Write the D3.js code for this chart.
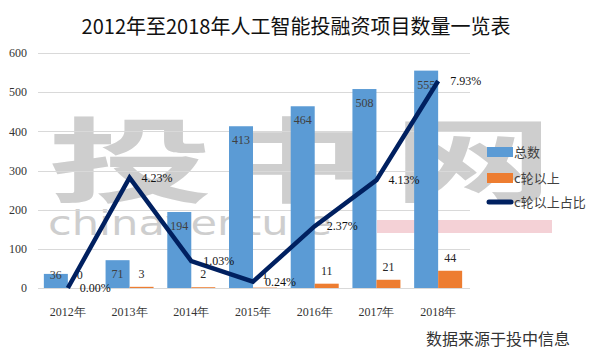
<!DOCTYPE html>
<html>
<head>
<meta charset="utf-8">
<title>人工智能投融资项目数量</title>
<style>
  body { margin: 0; background: #fff; }
  svg { display: block; }
  .num { font-family: 'Liberation Serif', 'Times New Roman', serif; }
  .cjk { font-family: 'Noto Sans CJK SC', 'Noto Sans', sans-serif; }
</style>
<script src="https://d3js.org/d3.v7.min.js"></script>
</head>
<body>
<div id="chart"></div>
<script>
// ******* Data *******
const years  = ['2012年', '2013年', '2014年', '2015年', '2016年', '2017年', '2018年'];
const total  = [36, 71, 194, 413, 464, 508, 555];
const cRound = [0, 3, 2, 1, 11, 21, 44];
const ratio  = [0.0000, 0.0423, 0.0103, 0.0024, 0.0237, 0.0413, 0.0793];
const yTicks = [0, 100, 200, 300, 400, 500, 600];

const width = 594, height = 354;
const blue = '#5b9bd5', orange = '#ed7d31', navy = '#002060';

const svg = d3.select('#chart').append('svg')
    .attr('width', width)
    .attr('height', height);

// ******* Scales *******
const x = d3.scaleBand().domain(years).range([37, 469]);
const sub = d3.scaleBand().domain(['total', 'c'])
    .range([x.bandwidth() / 2 - 24, x.bandwidth() / 2 + 24]);
const y = d3.scaleLinear().domain([0, 600]).range([288, 53]);
const y2 = d3.scaleLinear().domain([0, 0.09]).range([288, 53]);

// ******* Watermark (behind everything) *******
const wm = svg.append('g').attr('fill', '#c6c6c6').attr('opacity', 0.85);
[['投', 48, 165], ['中', 217, 150], ['网', 393, 160]].forEach(function(c) {
  wm.append('text')
    .attr('class', 'cjk')
    .attr('x', c[1]).attr('y', 195)
    .attr('font-size', 92)
    .attr('font-weight', 'bold')
    .attr('textLength', c[2])
    .attr('lengthAdjust', 'spacingAndGlyphs')
    .text(c[0]);
});
wm.append('text')
  .attr('x', 48).attr('y', 235)
  .attr('font-family', 'DejaVu Sans, sans-serif')
  .attr('font-size', 33)
  .attr('textLength', 284)
  .attr('lengthAdjust', 'spacingAndGlyphs')
  .text('chinaventure');
svg.append('rect')
  .attr('x', 377).attr('y', 220).attr('width', 175).attr('height', 13)
  .attr('fill', '#f2c9cf').attr('opacity', 0.85);

// ******* Title *******
svg.append('text')
  .attr('class', 'cjk')
  .attr('x', 296).attr('y', 34)
  .attr('text-anchor', 'middle')
  .attr('font-size', 20)
  .attr('fill', '#111')
  .text('2012年至2018年人工智能投融资项目数量一览表');

// ******* Grid + y labels *******
svg.selectAll('.grid').data(yTicks).enter().append('line')
  .attr('x1', 38).attr('x2', 470)
  .attr('y1', d => Math.round(y(d)) + 0.5)
  .attr('y2', d => Math.round(y(d)) + 0.5)
  .attr('stroke', '#d9d9d9');

svg.selectAll('.ylab').data(yTicks).enter().append('text')
  .attr('class', 'num')
  .attr('x', 27).attr('y', d => y(d))
  .attr('dy', '0.35em')
  .attr('text-anchor', 'end')
  .attr('font-size', 12)
  .attr('fill', '#333')
  .text(d => d);

// ******* Bars *******
const groups = svg.selectAll('.yr').data(years).enter().append('g')
  .attr('transform', d => 'translate(' + x(d) + ',0)');

groups.append('rect')
  .attr('x', sub('total')).attr('width', sub.bandwidth())
  .attr('y', (d, i) => y(total[i]))
  .attr('height', (d, i) => y(0) - y(total[i]))
  .attr('fill', blue);

groups.append('rect')
  .attr('x', sub('c')).attr('width', sub.bandwidth())
  .attr('y', (d, i) => y(cRound[i]))
  .attr('height', (d, i) => y(0) - y(cRound[i]))
  .attr('fill', orange);

// inside-end labels for totals
groups.append('text')
  .attr('class', 'num')
  .attr('x', sub('total') + sub.bandwidth() / 2)
  .attr('y', (d, i) => Math.min(y(total[i]) + 14, y(0) - 13))
  .attr('dy', '0.35em')
  .attr('text-anchor', 'middle')
  .attr('font-size', 12)
  .attr('fill', '#404040')
  .text((d, i) => total[i]);

// outside-end labels for c-round
groups.append('text')
  .attr('class', 'num')
  .attr('x', sub('c') + sub.bandwidth() / 2)
  .attr('y', (d, i) => y(cRound[i]) - 13)
  .attr('dy', '0.35em')
  .attr('text-anchor', 'middle')
  .attr('font-size', 12)
  .attr('fill', '#262626')
  .text((d, i) => cRound[i]);

// ******* Ratio line *******
const cx = d => x(d) + x.bandwidth() / 2;
const line = d3.line()
  .x(d => cx(d))
  .y((d, i) => y2(ratio[i]));

svg.append('path')
  .datum(years)
  .attr('d', line)
  .attr('fill', 'none')
  .attr('stroke', navy)
  .attr('stroke-width', 4.5)
  .attr('stroke-linejoin', 'miter');

svg.selectAll('.rlab').data(years).enter().append('text')
  .attr('class', 'num')
  .attr('x', d => cx(d) + 12)
  .attr('y', (d, i) => y2(ratio[i]))
  .attr('dy', '0.35em')
  .attr('font-size', 12)
  .attr('fill', '#111')
  .text((d, i) => d3.format('.2%')(ratio[i]));

// ******* X labels *******
svg.selectAll('.xlab').data(years).enter().append('text')
  .attr('class', 'num')
  .attr('x', d => cx(d))
  .attr('y', 312)
  .attr('dy', '0.35em')
  .attr('text-anchor', 'middle')
  .attr('font-size', 12)
  .attr('fill', '#333')
  .text(d => d);

// ******* Legend *******
const legend = [
  {name: '总数', type: 'rect', color: blue, y: 152},
  {name: 'c轮以上', type: 'rect', color: orange, y: 178},
  {name: 'c轮以上占比', type: 'line', color: navy, y: 202}
];
legend.forEach(function(l) {
  if (l.type === 'rect') {
    svg.append('rect')
      .attr('x', 487).attr('y', l.y - 5).attr('width', 26).attr('height', 10)
      .attr('fill', l.color);
  } else {
    svg.append('line')
      .attr('x1', 489).attr('x2', 511).attr('y1', l.y).attr('y2', l.y)
      .attr('stroke', l.color).attr('stroke-width', 5)
      .attr('stroke-linecap', 'round');
  }
  svg.append('text')
    .attr('class', 'cjk')
    .attr('x', 514).attr('y', l.y)
    .attr('dy', '0.35em')
    .attr('font-size', 13)
    .attr('fill', '#404040')
    .text(l.name);
});

// ******* Source *******
svg.append('text')
  .attr('class', 'cjk')
  .attr('x', 426).attr('y', 339)
  .attr('dy', '0.35em')
  .attr('font-size', 16)
  .attr('fill', '#333')
  .text('数据来源于投中信息');
</script>
</body>
</html>
